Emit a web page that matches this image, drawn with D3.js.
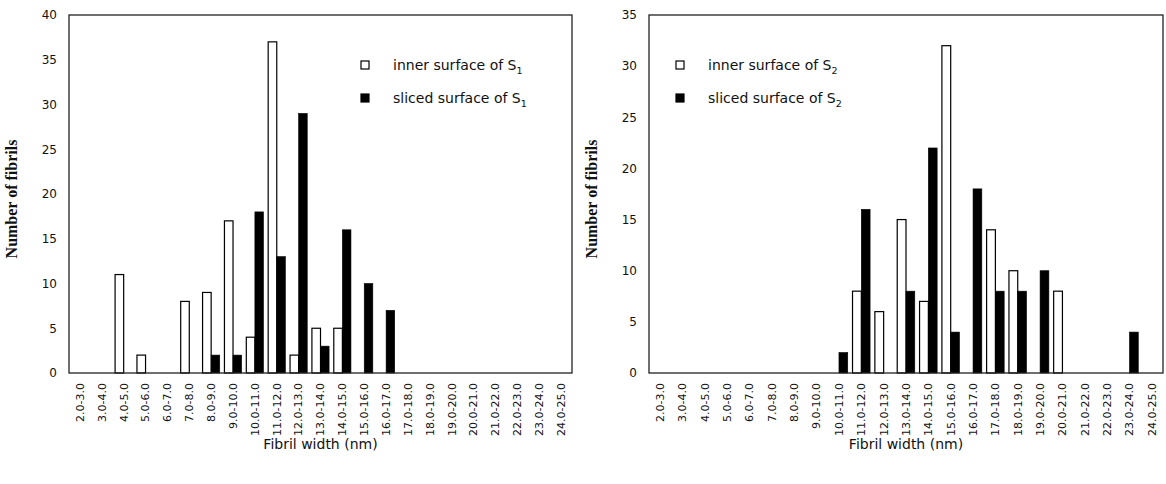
<!DOCTYPE html>
<html>
<head>
<meta charset="utf-8">
<script src="https://cdn.jsdelivr.net/npm/d3@7"></script>
<style>
  body { margin: 0; background: #fff; }
  text { fill: #111; }
</style>
</head>
<body>
<svg id="chart" width="1166" height="484"></svg>
<script>
// categorias de ancho de fibrilla
const categories = ["2.0-3.0", "3.0-4.0", "4.0-5.0", "5.0-6.0", "6.0-7.0", "7.0-8.0", "8.0-9.0",
  "9.0-10.0", "10.0-11.0", "11.0-12.0", "12.0-13.0", "13.0-14.0", "14.0-15.0", "15.0-16.0",
  "16.0-17.0", "17.0-18.0", "18.0-19.0", "19.0-20.0", "20.0-21.0", "21.0-22.0", "22.0-23.0",
  "23.0-24.0", "24.0-25.0"];

// S1
const s1Inner  = [0, 0, 11, 2, 0, 8, 9, 17, 4, 37, 2, 5, 5, 0, 0, 0, 0, 0, 0, 0, 0, 0, 0];
const s1Sliced = [0, 0, 0, 0, 0, 0, 2, 2, 18, 13, 29, 3, 16, 10, 7, 0, 0, 0, 0, 0, 0, 0, 0];
const s1Ticks = [0, 5, 10, 15, 20, 25, 30, 35, 40];

// S2
const s2Inner  = [0, 0, 0, 0, 0, 0, 0, 0, 0, 8, 6, 15, 7, 32, 0, 14, 10, 0, 8, 0, 0, 0, 0];
const s2Sliced = [0, 0, 0, 0, 0, 0, 0, 0, 2, 16, 0, 8, 22, 4, 18, 8, 8, 10, 0, 0, 0, 4, 0];
const s2Ticks = [0, 5, 10, 15, 20, 25, 30, 35];

const series = ["inner", "sliced"];
const sans = "DejaVu Sans, sans-serif";

const svg = d3.select("#chart");

function drawPanel(opts) {
  const { left, right, top, bottom, inner, sliced, ticks, sub, legendX } = opts;

  const x = d3.scaleBand()
    .domain(categories)
    .range([left, right])
    .paddingInner(0.16)
    .paddingOuter(0.08);

  const xs = d3.scaleBand()
    .domain(series)
    .range([0, x.bandwidth()]);

  const y = d3.scaleLinear()
    .domain([0, d3.max(ticks)])
    .range([bottom, top]);

  const g = svg.append("g");

  // barras
  const rows = categories.map((c, i) => ({ c, inner: inner[i], sliced: sliced[i] }));
  series.forEach(s => {
    g.selectAll(null)
      .data(rows.filter(d => d[s] > 0))
      .enter().append("rect")
      .attr("x", d => x(d.c) + xs(s) + (s === "inner" ? 0.6 : 0))
      .attr("y", d => y(d[s]))
      .attr("width", xs.bandwidth() - 0.6)
      .attr("height", d => bottom - y(d[s]))
      .attr("fill", s === "inner" ? "#fff" : "#000")
      .attr("stroke", "#000")
      .attr("stroke-width", s === "inner" ? 1.2 : 0.6);
  });

  // marco
  g.append("rect")
    .attr("x", left).attr("y", top)
    .attr("width", right - left).attr("height", bottom - top)
    .attr("fill", "none")
    .attr("stroke", "#222")
    .attr("stroke-width", 1.3);

  // eje y
  const yAxis = d3.axisLeft(y).tickValues(ticks).tickSize(0).tickPadding(12);
  g.append("g")
    .attr("transform", `translate(${left},0)`)
    .call(yAxis)
    .call(a => a.select(".domain").remove())
    .selectAll("text")
    .attr("font-family", sans)
    .attr("font-size", 12)
    .attr("fill", "#111");

  // eje x
  const xAxis = d3.axisBottom(x).tickSize(0).tickPadding(0);
  g.append("g")
    .attr("transform", `translate(0,${bottom})`)
    .call(xAxis)
    .call(a => a.select(".domain").remove())
    .selectAll("text")
    .attr("font-family", sans)
    .attr("font-size", 11)
    .attr("fill", "#111")
    .attr("text-anchor", "end")
    .attr("dy", "0.35em")
    .attr("transform", "translate(0,10) rotate(-90)")
    .attr("x", 0)
    .attr("y", 0);

  // titulos
  svg.append("text")
    .attr("x", (left + right) / 2)
    .attr("y", 449)
    .attr("text-anchor", "middle")
    .attr("font-family", sans)
    .attr("font-size", 14)
    .text("Fibril width (nm)");

  svg.append("text")
    .attr("transform", `translate(${left - 52},${(top + bottom) / 2 + 5}) rotate(-90)`)
    .attr("text-anchor", "middle")
    .attr("font-family", "Liberation Serif, serif")
    .attr("font-weight", "bold")
    .attr("font-size", 16)
    .text("Number of fibrils");

  // leyenda
  const labels = ["inner surface of S", "sliced surface of S"];
  series.forEach((s, i) => {
    const ly = 65 + i * 33;
    svg.append("rect")
      .attr("x", legendX - 4).attr("y", ly - 4)
      .attr("width", 8).attr("height", 8)
      .attr("fill", s === "inner" ? "#fff" : "#000")
      .attr("stroke", "#000")
      .attr("stroke-width", 1.2);
    const t = svg.append("text")
      .attr("x", legendX + 28)
      .attr("y", ly + 5)
      .attr("font-family", sans)
      .attr("font-size", 14)
      .text(labels[i]);
    t.append("tspan")
      .attr("font-size", 9.5)
      .attr("dy", 4)
      .text(sub);
  });
}

drawPanel({ left: 69, right: 572, top: 15, bottom: 373, inner: s1Inner, sliced: s1Sliced,
  ticks: s1Ticks, sub: "1", legendX: 365 });
drawPanel({ left: 649, right: 1163, top: 15, bottom: 373, inner: s2Inner, sliced: s2Sliced,
  ticks: s2Ticks, sub: "2", legendX: 680 });
</script>
</body>
</html>
